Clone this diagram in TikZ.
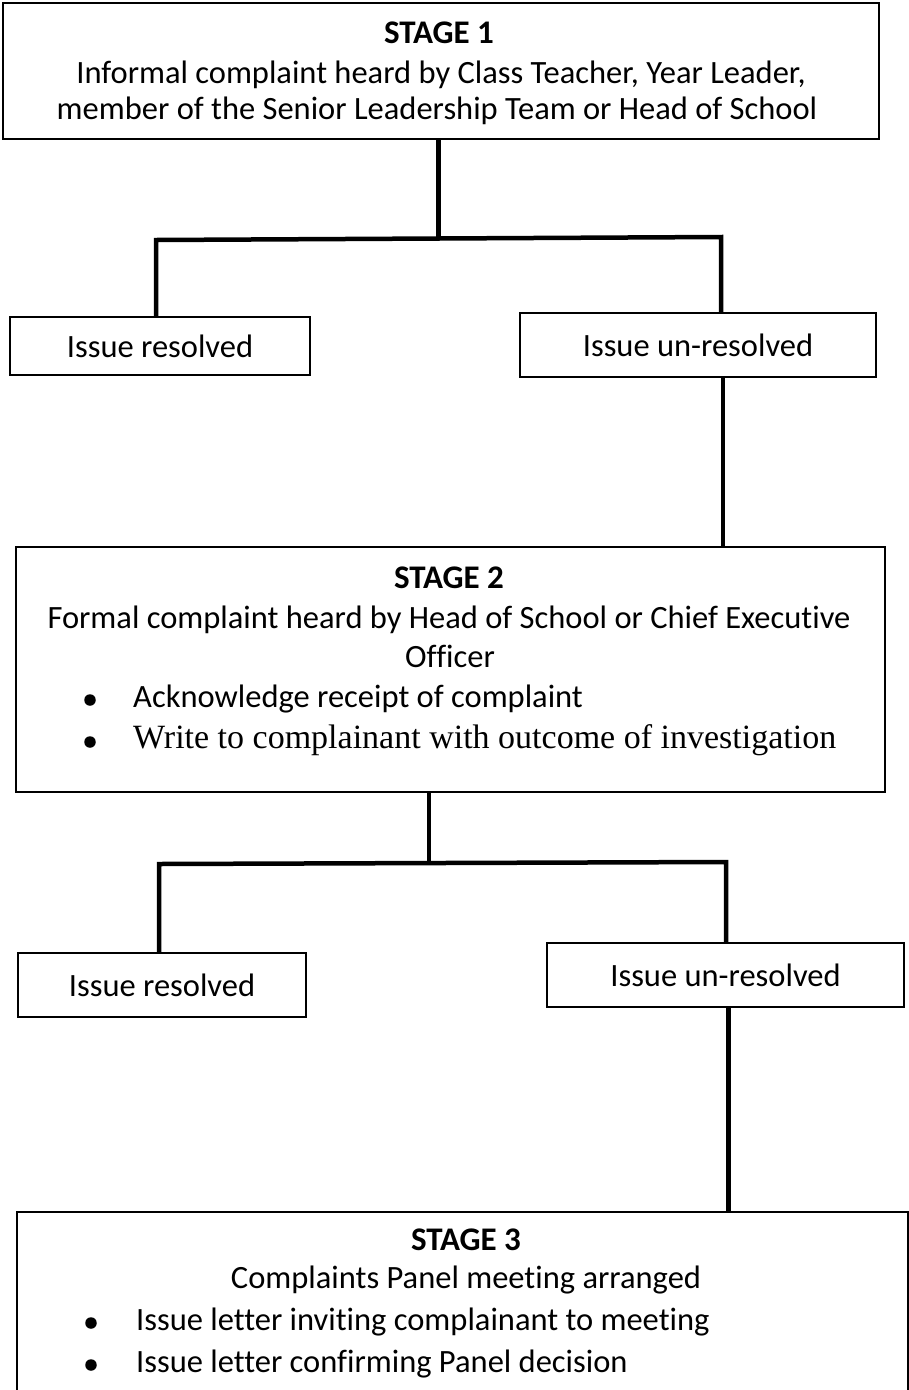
\documentclass[tikz,border=0pt]{standalone}
\usepackage{fontspec}
\setmainfont{Carlito}[Ligatures=NoCommon]
\newfontfamily\cambriaish{Liberation Serif}[Ligatures=NoCommon]
\usetikzlibrary{calc}
\begin{document}
\begin{tikzpicture}[x=1pt,y=-1pt,
  box/.style={draw,line width=2pt,inner sep=0pt,font=\fontsize{32.5}{38}\selectfont},
  conn/.style={line width=4.5pt},
  txt/.style={anchor=base,inner sep=0pt,font=\fontsize{32.5}{38}\selectfont},
  stagett/.style={anchor=base,inner sep=0pt,font=\fontsize{33}{38}\selectfont\bfseries},
  bul/.style={circle,fill,inner sep=0pt,minimum size=11.5pt},
  btxt/.style={anchor=base west,inner sep=0pt,font=\fontsize{32.5}{38}\selectfont}]
\clip (0,0) rectangle (909,1390);
\fill[white] (0,0) rectangle (909,1390);
% boxes
\node[box,minimum width=876pt,minimum height=136pt] (s1) at (441,71) {};
\node[box,minimum width=300pt,minimum height=58pt] (res1) at (160,346) {Issue resolved};
\node[box,minimum width=356pt,minimum height=64pt] (unres1) at (698,345) {Issue un-resolved};
\node[box,minimum width=869pt,minimum height=245pt] (s2) at (450.5,669.5) {};
\node[box,minimum width=288pt,minimum height=64pt] (res2) at (162,985) {Issue resolved};
\node[box,minimum width=357pt,minimum height=64pt] (unres2) at (725.5,975) {Issue un-resolved};
\node[box,minimum width=891pt,minimum height=189pt] (s3) at (462.5,1306) {};
% stage 1 text
\node[stagett] (s1t) at (439,43) {STAGE 1};
\node[txt] (s1a) at (441,83) {Informal complaint heard by Class Teacher, Year Leader,};
\node[txt] (s1b) at (437,119) {member of the Senior Leadership Team or Head of School};
% stage 2 text
\node[stagett] (s2t) at (449,588) {STAGE 2};
\node[txt] (s2a) at (449,628) {Formal complaint heard by Head of School or Chief Executive};
\node[txt] (s2b) at (450,667) {Officer};
\node[bul] (s2d1) at (90,700) {};
\node[btxt] (s2c) at (133,707) {Acknowledge receipt of complaint};
\node[bul] (s2d2) at (90,742) {};
\node[btxt,font=\fontsize{34}{38}\cambriaish] (s2d) at (133,748) {Write to complainant with outcome of investigation};
% stage 3 text
\node[stagett] (s3t) at (466,1250) {STAGE 3};
\node[txt] (s3a) at (466,1288) {Complaints Panel meeting arranged};
\node[bul] (s3d1) at (91,1323) {};
\node[btxt] (s3b) at (136,1330) {Issue letter inviting complainant to meeting};
\node[bul] (s3d2) at (91,1365) {};
\node[btxt] (s3c) at (136,1372) {Issue letter confirming Panel decision};
% connectors, level 1
\coordinate (j1L) at (156,240);
\coordinate (j1R) at (721,237);
\coordinate (j1M) at ($(j1L)!0.5!(j1R)$);
\draw[conn] (s1.south -| j1M) -- (j1M);
\draw[conn] (res1.north -| j1L) -- (j1L) -- (j1R) -- (j1R |- unres1.north);
\coordinate (t1) at ([xshift=25pt]unres1.south);
\draw[conn] (t1) -- (t1 |- s2.north);
% connectors, level 2
\coordinate (j2L) at (159,864);
\coordinate (j2R) at (726,862);
\coordinate (j2M) at ($(j2L)!0.476!(j2R)$);
\draw[conn] (s2.south -| j2M) -- (j2M);
\draw[conn] (res2.north -| j2L) -- (j2L) -- (j2R) -- (j2R |- unres2.north);
\coordinate (t2) at ([xshift=3pt]unres2.south);
\draw[conn] (t2) -- (t2 |- s3.north);
\end{tikzpicture}
\end{document}
